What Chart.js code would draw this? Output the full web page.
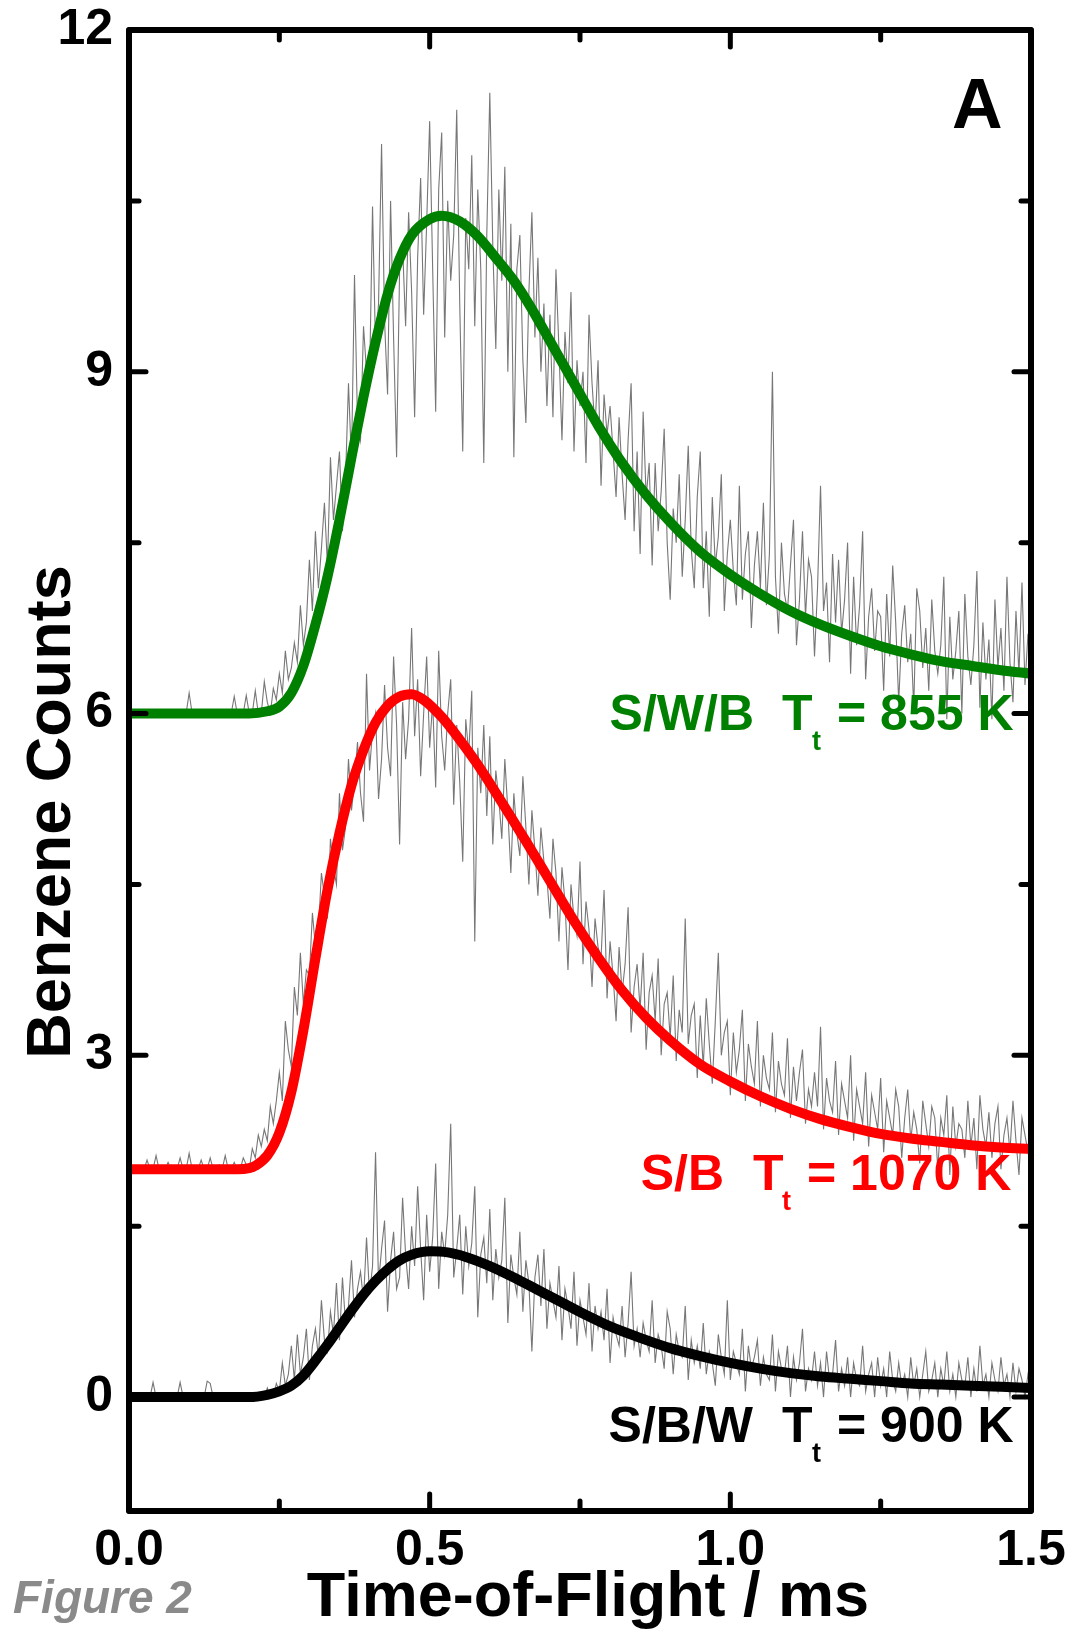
<!DOCTYPE html>
<html>
<head>
<meta charset="utf-8">
<script src="https://cdn.jsdelivr.net/npm/chart.js@4.4.1/dist/chart.umd.min.js"></script>
<style>
  html, body { margin: 0; padding: 0; background: #ffffff; }
  #wrap { position: relative; width: 1073px; height: 1632px; }
</style>
</head>
<body>
<div id="wrap"><canvas id="chart" width="1073" height="1632"></canvas></div>
<script>
// ---------- DATA ----------
// Raw time-of-flight channels (ms)
const tofTime = [
  0,0.005,0.01,0.015,0.02,0.025,0.03,0.035,0.04,0.045,
  0.05,0.055,0.06,0.065,0.07,0.075,0.08,0.085,0.09,0.095,
  0.1,0.105,0.11,0.115,0.12,0.125,0.13,0.135,0.14,0.145,
  0.15,0.155,0.16,0.165,0.17,0.175,0.18,0.185,0.19,0.195,
  0.2,0.205,0.21,0.215,0.22,0.225,0.23,0.235,0.24,0.245,
  0.25,0.255,0.26,0.265,0.27,0.275,0.28,0.285,0.29,0.295,
  0.3,0.305,0.31,0.315,0.32,0.325,0.33,0.335,0.34,0.345,
  0.35,0.355,0.36,0.365,0.37,0.375,0.38,0.385,0.39,0.395,
  0.4,0.405,0.41,0.415,0.42,0.425,0.43,0.435,0.44,0.445,
  0.45,0.455,0.46,0.465,0.47,0.475,0.48,0.485,0.49,0.495,
  0.5,0.505,0.51,0.515,0.52,0.525,0.53,0.535,0.54,0.545,
  0.55,0.555,0.56,0.565,0.57,0.575,0.58,0.585,0.59,0.595,
  0.6,0.605,0.61,0.615,0.62,0.625,0.63,0.635,0.64,0.645,
  0.65,0.655,0.66,0.665,0.67,0.675,0.68,0.685,0.69,0.695,
  0.7,0.705,0.71,0.715,0.72,0.725,0.73,0.735,0.74,0.745,
  0.75,0.755,0.76,0.765,0.77,0.775,0.78,0.785,0.79,0.795,
  0.8,0.805,0.81,0.815,0.82,0.825,0.83,0.835,0.84,0.845,
  0.85,0.855,0.86,0.865,0.87,0.875,0.88,0.885,0.89,0.895,
  0.9,0.905,0.91,0.915,0.92,0.925,0.93,0.935,0.94,0.945,
  0.95,0.955,0.96,0.965,0.97,0.975,0.98,0.985,0.99,0.995,
  1.0,1.005,1.01,1.015,1.02,1.025,1.03,1.035,1.04,1.045,
  1.05,1.055,1.06,1.065,1.07,1.075,1.08,1.085,1.09,1.095,
  1.1,1.105,1.11,1.115,1.12,1.125,1.13,1.135,1.14,1.145,
  1.15,1.155,1.16,1.165,1.17,1.175,1.18,1.185,1.19,1.195,
  1.2,1.205,1.21,1.215,1.22,1.225,1.23,1.235,1.24,1.245,
  1.25,1.255,1.26,1.265,1.27,1.275,1.28,1.285,1.29,1.295,
  1.3,1.305,1.31,1.315,1.32,1.325,1.33,1.335,1.34,1.345,
  1.35,1.355,1.36,1.365,1.37,1.375,1.38,1.385,1.39,1.395,
  1.4,1.405,1.41,1.415,1.42,1.425,1.43,1.435,1.44,1.445,
  1.45,1.455,1.46,1.465,1.47,1.475,1.48,1.485,1.49,1.495,
  1.5
];

// Raw counts, S/W/B (offset +6)
const rawSWB = [
  6,6,6,6,6,6,6,6,6,6,
  6,6,6,6,6,6,6,6,6,6,
  6.18,6,6,6,6,6,6,6,6,6,
  6,6,6,6,6,6.15,6,6,6,6.16,
  6,6,6.2,6,6,6.28,6.1,6,6.22,6.12,
  6.35,6.18,6.55,6.3,6.4,6.62,6.45,6.95,6.6,6.8,
  7.35,6.9,7.6,7.1,7.45,7.85,7.3,8.25,7.7,8.0,
  8.3,7.6,8.05,8.9,8.2,9.85,8.55,8.4,9.4,9.0,
  8.9,10.45,9.2,9.6,11.0,9.45,8.8,10.5,9.3,8.25,
  9.9,10.1,9.4,10.4,9.7,8.6,10.0,10.7,9.5,10.3,
  11.2,9.9,8.65,10.6,11.1,9.3,10.5,9.8,10.2,11.3,
  9.6,8.3,10.35,9.9,10.9,9.4,10.6,9.9,8.2,10.2,
  11.45,10.1,9.2,10.6,9.8,10.8,9.0,10.3,8.25,9.9,
  10.2,9.1,8.55,9.7,10.4,9.3,10.0,9.0,9.6,8.7,
  9.5,8.6,9.9,9.2,8.4,9.35,8.9,9.7,8.3,9.1,
  8.7,9.0,8.2,9.5,8.9,8.5,9.1,8.0,8.8,8.45,
  8.7,8.3,7.9,8.6,8.1,7.7,8.4,8.9,7.6,8.3,
  7.4,8.65,7.9,8.2,7.3,8.2,7.6,7.95,8.5,7.5,
  7.0,7.8,7.5,8.1,7.2,7.7,8.35,7.45,7.1,7.9,
  8.3,7.1,7.6,6.85,7.9,7.3,7.55,8.1,6.9,7.4,
  7.7,7.25,6.95,8.0,7.0,7.4,7.6,6.75,7.3,7.6,
  7.1,7.85,6.95,7.4,9.0,7.2,6.7,7.5,7.05,6.9,
  7.3,7.7,6.6,7.0,7.6,6.85,7.35,7.2,6.5,7.1,
  8.0,6.9,7.15,6.45,7.4,6.8,7.35,6.7,7.0,7.5,
  6.35,7.2,6.6,6.95,7.6,6.3,6.85,7.1,6.55,6.9,
  6.85,6.2,7.05,6.5,7.3,6.8,6.1,6.7,6.95,6.45,
  6.7,6.05,7.1,6.9,6.4,6.75,6.2,7.0,6.55,6.35,
  6.6,7.2,5.95,6.85,6.3,6.55,6.9,6.0,7.05,6.5,
  6.25,6.6,7.25,6.05,6.8,6.3,6.65,5.95,7.0,6.4,
  6.75,6.2,7.2,6.45,6.1,6.9,6.35,7.15,6.25,6.7,
  6.5
];

// Raw counts, S/B (offset +2)
const rawSB = [
  2,2,2,2,2,2,2.08,2,2,2.12,
  2,2,2,2.06,2,2,2,2.1,2,2,
  2.14,2,2,2,2.08,2,2,2.1,2,2,
  2.04,2,2.12,2,2,2.06,2,2,2.1,2.04,
  2.0,2.18,2.1,2.3,2.2,2.35,2.25,2.55,2.4,2.6,
  2.85,2.6,3.3,3.05,2.9,3.6,3.35,3.9,3.45,3.75,
  3.7,4.25,3.95,4.1,4.6,4.4,4.2,4.9,4.65,4.5,
  5.3,4.8,5.0,5.6,5.15,5.4,5.75,5.3,5.05,6.35,
  5.5,5.85,6.0,5.25,5.6,6.25,5.7,5.45,6.5,5.9,
  4.85,6.1,5.6,5.95,6.75,5.8,6.3,5.45,6.0,6.5,
  5.7,6.1,5.35,6.55,5.8,5.5,6.0,6.3,5.2,5.9,
  5.4,4.7,5.95,5.65,6.2,4.0,5.7,5.3,5.9,5.1,
  5.8,4.85,5.5,5.25,4.9,5.6,5.15,4.6,5.3,4.95,
  4.75,5.45,5.0,4.5,5.15,4.8,4.4,5.0,4.7,4.55,
  4.2,4.9,4.6,4.0,4.65,4.35,3.75,4.5,4.2,4.05,
  4.7,3.8,4.35,4.1,3.6,4.2,3.95,3.85,4.45,3.5,
  4.0,3.7,3.3,3.95,3.55,3.8,4.3,3.2,3.6,3.8,
  3.4,3.9,3.05,3.55,3.7,3.3,3.85,3.0,3.45,3.55,
  3.15,3.7,2.95,3.4,3.2,4.2,3.1,3.35,3.45,2.8,
  3.35,2.9,3.5,3.1,2.75,3.3,3.9,3.0,3.2,3.3,
  2.65,3.2,2.85,3.05,3.4,2.6,3.1,2.9,2.75,3.3,
  2.55,3.0,2.8,2.7,3.2,2.5,2.95,2.75,2.65,3.15,
  2.45,2.9,2.6,2.85,3.05,2.4,2.7,2.55,2.85,2.55,
  3.25,2.35,2.8,2.6,2.5,2.95,2.3,2.75,2.6,2.45,
  3.0,2.25,2.7,2.55,2.4,2.85,2.2,2.65,2.5,2.35,
  2.8,2.15,2.6,2.45,2.3,2.7,2.55,2.1,2.45,2.7,
  2.25,2.5,2.35,2.05,2.6,2.4,2.2,2.55,2.45,2.0,
  2.45,2.3,2.65,1.95,2.55,2.2,2.4,2.35,2.1,2.6,
  2.2,2.45,2.0,2.65,2.35,2.2,2.5,2.1,2.4,2.55,
  2.0,2.3,2.45,2.15,2.6,2.25,1.95,2.45,2.3,2.15,
  2.5
];

// Raw counts, S/B/W (no offset)
const rawSBW = [
  0,0,0,0,0,0,0,0,0.13,0,
  0,0,0,0,0,0,0,0.13,0,0,
  0,0,0,0,0,0,0.14,0.12,0,0,
  0,0,0,0,0,0,0,0,0,0,
  0,0,0,0,0,0,0.08,0,0,0.12,
  0.05,0.3,0.1,0.2,0.45,0.15,0.55,0.2,0.35,0.6,
  0.15,0.45,0.6,0.35,0.85,0.5,0.4,0.75,0.55,1.0,
  0.5,1.05,0.65,0.8,1.2,0.7,0.95,1.1,0.85,1.4,
  0.9,1.15,2.15,1.0,1.3,1.55,0.75,1.2,1.45,0.95,
  1.05,1.75,1.25,0.95,1.5,1.15,1.85,1.3,0.85,1.6,
  1.1,1.4,2.05,0.95,1.45,1.25,1.6,2.4,1.05,1.3,
  1.6,0.9,1.5,1.15,1.35,1.85,0.7,1.25,1.4,1.0,
  1.65,0.85,1.3,1.05,1.2,1.75,0.65,1.25,1.05,0.9,
  1.45,0.75,1.2,1.0,0.4,1.05,1.25,0.8,1.3,0.6,
  1.0,0.85,0.7,1.15,0.5,0.95,0.8,0.6,1.1,0.45,
  0.85,0.7,0.55,1.0,0.4,0.8,0.6,0.75,0.5,0.95,
  0.3,0.7,0.55,0.45,0.8,0.35,0.65,1.1,0.45,0.6,
  0.35,0.65,0.5,0.4,0.85,0.3,0.55,0.45,0.25,0.75,
  0.6,0.2,0.55,0.4,0.35,0.8,0.15,0.5,0.3,0.45,
  0.25,0.65,0.2,0.4,0.3,0.1,0.55,0.35,0.2,0.85,
  0.15,0.4,0.3,0.2,0.6,0.05,0.45,0.25,0.35,0.5,
  0.1,0.35,0.2,0.15,0.55,0.05,0.4,0.25,0.2,0.45,
  0.0,0.35,0.15,0.3,0.6,0.05,0.25,0.15,0.4,0.1,
  0.3,0.0,0.4,0.15,0.2,0.5,0.05,0.25,0.1,0.35,
  0.0,0.3,0.15,0.1,0.45,0.05,0.2,0.3,0.0,0.35,
  0.1,0.25,0.0,0.4,0.15,0.05,0.3,0.1,0.2,0.0,
  0.35,0.1,0.25,0.0,0.2,0.4,0.05,0.15,0.3,0.0,
  0.25,0.1,0.4,0.05,0.2,0.0,0.3,0.15,0.1,0.35,
  0.0,0.25,0.05,0.45,0.1,0.2,0.0,0.3,0.15,0.05,
  0.35,0.1,0.2,0.0,0.3,0.05,0.25,0.15,0.0,0.2,
  0.1
];

// Fitted curves (times in ms and values)
const fitTimeSWB = [0,0.20,0.23,0.25,0.27,0.29,0.31,0.33,0.35,0.37,0.39,0.41,0.43,0.45,0.47,0.50,0.52,0.55,0.58,0.61,0.64,0.67,0.70,0.74,0.78,0.82,0.86,0.90,0.95,1.00,1.05,1.10,1.15,1.20,1.25,1.30,1.35,1.40,1.45,1.50];
const fitSWB     = [6.00,6.00,6.02,6.06,6.18,6.42,6.78,7.20,7.70,8.25,8.78,9.26,9.68,9.99,10.20,10.34,10.37,10.32,10.19,10.00,9.80,9.55,9.27,8.90,8.53,8.20,7.92,7.68,7.42,7.22,7.05,6.90,6.78,6.68,6.59,6.52,6.46,6.42,6.38,6.35];

const fitTimeSB = [0,0.18,0.20,0.21,0.23,0.25,0.27,0.29,0.31,0.33,0.35,0.37,0.39,0.41,0.43,0.45,0.47,0.49,0.52,0.55,0.58,0.62,0.66,0.70,0.74,0.78,0.82,0.86,0.90,0.95,1.00,1.05,1.10,1.15,1.20,1.25,1.30,1.35,1.40,1.45,1.50];
const fitSB     = [2.00,2.00,2.01,2.03,2.12,2.32,2.68,3.22,3.85,4.45,4.95,5.37,5.68,5.92,6.07,6.15,6.17,6.12,5.97,5.77,5.55,5.22,4.88,4.53,4.18,3.86,3.57,3.33,3.13,2.92,2.77,2.64,2.53,2.44,2.37,2.31,2.27,2.24,2.21,2.19,2.18];

const fitTimeSBW = [0,0.20,0.23,0.25,0.27,0.29,0.31,0.33,0.35,0.37,0.39,0.41,0.43,0.45,0.47,0.50,0.53,0.56,0.60,0.64,0.68,0.72,0.76,0.80,0.85,0.90,0.95,1.00,1.05,1.10,1.15,1.20,1.25,1.30,1.35,1.40,1.45,1.50];
const fitSBW     = [0.00,0.00,0.02,0.05,0.10,0.19,0.32,0.46,0.61,0.76,0.90,1.02,1.12,1.20,1.25,1.28,1.27,1.23,1.15,1.05,0.94,0.83,0.72,0.62,0.52,0.43,0.36,0.30,0.25,0.21,0.18,0.16,0.14,0.12,0.11,0.10,0.09,0.08];

// Axes ticks
const xTickValues  = [0, 0.5, 1.0, 1.5];
const xMinorTicks  = [0.25, 0.75, 1.25];
const yTickValues  = [0, 3, 6, 9, 12];
const yMinorTicks  = [1.5, 4.5, 7.5, 10.5];

// Texts
const xTitle = 'Time-of-Flight / ms';
const yTitle = 'Benzene Counts';
const panelLetter = 'A';
const figureLabel = 'Figure 2';
const seriesNames = ['S/W/B', 'S/B', 'S/B/W'];
const seriesTemps = ['= 855 K', '= 1070 K', '= 900 K'];

// ---------- STYLE / LAYOUT ----------
const FONT = '"Liberation Sans", Arial, Helvetica, sans-serif';
const colors = { swb: '#008000', sb: '#ff0000', sbw: '#000000', raw: '#777777' };
const labelLayout = [
  { color: colors.swb, prefixRight: 754, tLeft: 782, subLeft: 812, restLeft: 837, base: 730 },
  { color: colors.sb,  prefixRight: 724, tLeft: 753, subLeft: 782, restLeft: 807, base: 1190 },
  { color: colors.sbw, prefixRight: 753, tLeft: 782, subLeft: 812, restLeft: 837, base: 1442 }
];

const toXY = (xs, ys) => xs.map((x, i) => ({ x: x, y: ys[i] }));

const frameTicksPlugin = {
  id: 'frameTicks',
  afterDatasetsDraw(chart) {
    const { ctx, chartArea: { left, right, top, bottom }, scales: { x, y } } = chart;
    ctx.save();
    ctx.strokeStyle = '#000';
    ctx.lineWidth = 6;
    ctx.lineJoin = 'round';
    ctx.strokeRect(left, top, right - left, bottom - top);
    ctx.lineWidth = 5;
    ctx.lineCap = 'round';
    const seg = (x1, y1, x2, y2) => { ctx.beginPath(); ctx.moveTo(x1, y1); ctx.lineTo(x2, y2); ctx.stroke(); };
    const MAJ = 17, MIN = 10;
    xTickValues.forEach(v => { const p = x.getPixelForValue(v); seg(p, bottom, p, bottom - MAJ); seg(p, top, p, top + MAJ); });
    xMinorTicks.forEach(v => { const p = x.getPixelForValue(v); seg(p, bottom, p, bottom - MIN); seg(p, top, p, top + MIN); });
    yTickValues.forEach(v => { const p = y.getPixelForValue(v); seg(left, p, left + MAJ, p); seg(right, p, right - MAJ, p); });
    yMinorTicks.forEach(v => { const p = y.getPixelForValue(v); seg(left, p, left + MIN, p); seg(right, p, right - MIN, p); });
    ctx.restore();
  },
  afterDraw(chart) {
    const { ctx } = chart;
    ctx.save();
    ctx.textBaseline = 'alphabetic';
    labelLayout.forEach((L, i) => {
      ctx.fillStyle = L.color;
      ctx.font = 'bold 50px ' + FONT;
      ctx.textAlign = 'right';
      ctx.fillText(seriesNames[i], L.prefixRight, L.base);
      ctx.textAlign = 'left';
      ctx.fillText('T', L.tLeft, L.base);
      ctx.fillText(seriesTemps[i], L.restLeft, L.base);
      ctx.font = 'bold 27px ' + FONT;
      ctx.fillText('t', L.subLeft, L.base + 20);
    });
    // axis titles
    ctx.fillStyle = '#000';
    ctx.font = 'bold 63px ' + FONT;
    ctx.textAlign = 'center';
    ctx.fillText(xTitle, 588, 1616);
    ctx.save();
    ctx.translate(70, 812);
    ctx.rotate(-Math.PI / 2);
    ctx.fillText(yTitle, 0, 0);
    ctx.restore();
    // panel letter and figure tag
    ctx.font = 'bold 70px ' + FONT;
    ctx.textAlign = 'left';
    ctx.fillText(panelLetter, 952, 128);
    ctx.fillStyle = '#8a8a8a';
    ctx.font = 'italic bold 46px ' + FONT;
    ctx.fillText(figureLabel, 13, 1613);
    ctx.restore();
  }
};

new Chart(document.getElementById('chart'), {
  type: 'line',
  data: {
    datasets: [
      { label: 'S/W/B fit', data: toXY(fitTimeSWB, fitSWB), borderColor: colors.swb, borderWidth: 10, pointRadius: 0, cubicInterpolationMode: 'monotone', order: 0 },
      { label: 'S/B fit',   data: toXY(fitTimeSB, fitSB),   borderColor: colors.sb,  borderWidth: 10, pointRadius: 0, cubicInterpolationMode: 'monotone', order: 0 },
      { label: 'S/B/W fit', data: toXY(fitTimeSBW, fitSBW), borderColor: colors.sbw, borderWidth: 10, pointRadius: 0, cubicInterpolationMode: 'monotone', order: 0 },
      { label: 'S/W/B raw', data: toXY(tofTime, rawSWB), borderColor: colors.raw, borderWidth: 1.1, pointRadius: 0, tension: 0, order: 1 },
      { label: 'S/B raw',   data: toXY(tofTime, rawSB),  borderColor: colors.raw, borderWidth: 1.1, pointRadius: 0, tension: 0, order: 1 },
      { label: 'S/B/W raw', data: toXY(tofTime, rawSBW), borderColor: colors.raw, borderWidth: 1.1, pointRadius: 0, tension: 0, order: 1 }
    ]
  },
  options: {
    responsive: false,
    animation: false,
    devicePixelRatio: 1,
    layout: { padding: { left: 0, right: 42, top: 30, bottom: 0 } },
    plugins: { legend: { display: false }, tooltip: { enabled: false } },
    scales: {
      x: {
        type: 'linear', min: 0, max: 1.5,
        afterBuildTicks: s => { s.ticks = xTickValues.map(v => ({ value: v })); },
        afterFit: s => { s.height = 121; s.paddingLeft = 0; s.paddingRight = 0; },
        grid: { display: false, drawTicks: false },
        border: { display: false },
        ticks: { color: '#000', font: { family: FONT, size: 50, weight: 'bold' }, padding: 10, maxRotation: 0, autoSkip: false,
                 callback: v => Number(v).toFixed(1) },
        title: { display: false }
      },
      y: {
        type: 'linear', min: -1, max: 12,
        afterBuildTicks: s => { s.ticks = yTickValues.map(v => ({ value: v })); },
        afterFit: s => { s.width = 129; s.paddingTop = 0; s.paddingBottom = 0; },
        grid: { display: false, drawTicks: false },
        border: { display: false },
        ticks: { color: '#000', font: { family: FONT, size: 50, weight: 'bold' }, padding: 16, autoSkip: false,
                 callback: v => String(v) },
        title: { display: false }
      }
    }
  },
  plugins: [frameTicksPlugin]
});
</script>
</body>
</html>
